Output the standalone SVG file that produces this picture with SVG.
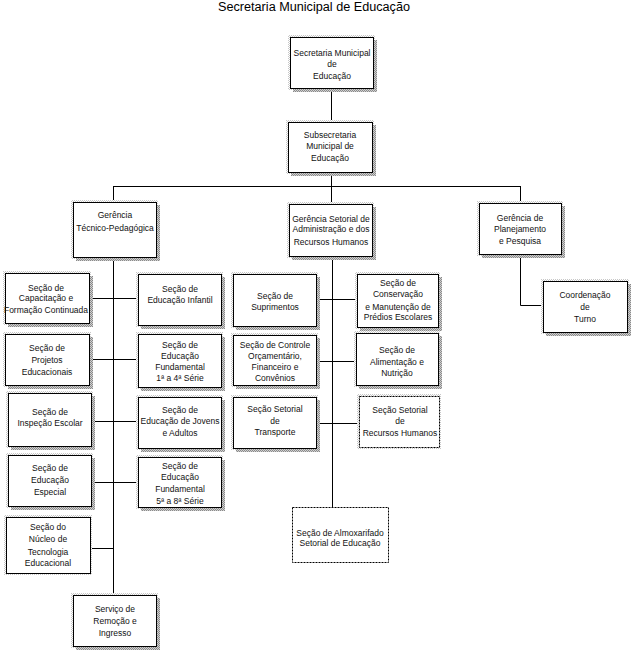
<svg xmlns="http://www.w3.org/2000/svg" width="636" height="655" viewBox="0 0 636 655">
<defs>
<pattern id="stip" width="2" height="2" patternUnits="userSpaceOnUse">
<rect width="2" height="2" fill="#d0d0d0"/>
<rect width="1" height="1" fill="#8a8a8a"/>
<rect x="1" y="1" width="1" height="1" fill="#8a8a8a"/>
</pattern>
<pattern id="halo" width="2" height="2" patternUnits="userSpaceOnUse">
<rect width="2" height="2" fill="#ffffff"/>
<rect width="1" height="1" fill="#c8c8c8"/>
<rect x="1" y="1" width="1" height="1" fill="#c8c8c8"/>
</pattern>
</defs>
<style>
.box{fill:#ffffff;stroke:#000000;stroke-width:1}
.dot{fill:#ffffff;stroke:#000000;stroke-width:1;stroke-dasharray:2 1}
.sh{fill:url(#stip)}
.ha{fill:url(#halo)}
.t{font-family:"Liberation Sans",Arial,sans-serif;font-size:8.5px;fill:#111111;text-anchor:middle}
.title{font-family:"Liberation Sans",Arial,sans-serif;font-size:12px;fill:#000000;text-anchor:middle}
.c{stroke:#000000;stroke-width:1;fill:none}
</style>
<rect width="636" height="655" fill="#ffffff"/>
<text class="title" x="314" y="11" textLength="192" lengthAdjust="spacingAndGlyphs">Secretaria Municipal de Educação</text>

<g id="connectors">
<path class="c" d="M331.5 88V122M331.5 172V204M113.5 186.5H520.5M113.5 186V202M520.5 186V203M520.5 254V305.5H543M113.5 257V595M89 298.5H138M89 359.5H138M91 421.5H138M91 482.5H138M90 548.5H113.5M332.5 256V507M316 299.5H357M316 361.5H356M316 423.5H359"/>
</g>

<g id="n-secretaria">
<rect class="ha" x="288" y="35" width="87" height="55"/><rect class="sh" x="293" y="40" width="84" height="52"/>
<rect class="box" x="290.5" y="37.5" width="83" height="51"/>
<text class="t" x="332" y="56">Secretaria Municipal</text><text class="t" x="332" y="67">de</text><text class="t" x="332" y="79">Educação</text>
</g>
<g id="n-subsecretaria">
<rect class="ha" x="286" y="120" width="88" height="54"/><rect class="sh" x="291" y="125" width="85" height="51"/>
<rect class="box" x="288.5" y="122.5" width="84" height="50"/>
<text class="t" x="330" y="138">Subsecretaria</text><text class="t" x="330" y="149">Municipal de</text><text class="t" x="330" y="161">Educação</text>
</g>
<g id="n-gerencia-tp">
<rect class="ha" x="71" y="200" width="87" height="59"/><rect class="sh" x="76" y="205" width="84" height="56"/>
<rect class="box" x="73.5" y="202.5" width="83" height="55"/>
<text class="t" x="115" y="218">Gerência</text><text class="t" x="115" y="231">Técnico-Pedagógica</text>
</g>
<g id="n-gerencia-sa">
<rect class="ha" x="287" y="202" width="87" height="56"/><rect class="sh" x="292" y="207" width="84" height="53"/>
<rect class="box" x="289.5" y="204.5" width="83" height="52"/>
<text class="t" x="331" y="222">Gerência Setorial de</text><text class="t" x="331" y="232">Administração e dos</text><text class="t" x="331" y="245">Recursos Humanos</text>
</g>
<g id="n-gerencia-pp">
<rect class="ha" x="477" y="201" width="86" height="55"/><rect class="sh" x="482" y="206" width="83" height="52"/>
<rect class="box" x="479.5" y="203.5" width="82" height="51"/>
<text class="t" x="520" y="221">Gerência de</text><text class="t" x="520" y="232">Planejamento</text><text class="t" x="520" y="244">e Pesquisa</text>
</g>
<g id="n-coordenacao">
<rect class="ha" x="541" y="279" width="88" height="55"/><rect class="sh" x="546" y="284" width="85" height="52"/>
<rect class="box" x="543.5" y="281.5" width="84" height="51"/>
<text class="t" x="585" y="298">Coordenação</text><text class="t" x="585" y="310">de</text><text class="t" x="585" y="322">Turno</text>
</g>
<g id="n-capacitacao">
<rect class="ha" x="3" y="271" width="88" height="54"/><rect class="sh" x="8" y="276" width="85" height="51"/>
<rect class="box" x="5.5" y="273.5" width="84" height="50"/>
<text class="t" x="46" y="291">Seção de</text><text class="t" x="46" y="301">Capacitação e</text><text class="t" x="46" y="313">Formação Continuada</text>
</g>
<g id="n-infantil">
<rect class="ha" x="136" y="272" width="87" height="55"/><rect class="sh" x="141" y="277" width="84" height="52"/>
<rect class="box" x="138.5" y="274.5" width="83" height="51"/>
<text class="t" x="180" y="292">Seção de</text><text class="t" x="180" y="303">Educação Infantil</text>
</g>
<g id="n-projetos">
<rect class="ha" x="3" y="332" width="88" height="55"/><rect class="sh" x="8" y="337" width="85" height="52"/>
<rect class="box" x="5.5" y="334.5" width="84" height="51"/>
<text class="t" x="47" y="351">Seção de</text><text class="t" x="47" y="363">Projetos</text><text class="t" x="47" y="375">Educacionais</text>
</g>
<g id="n-fundamental-1">
<rect class="ha" x="136" y="332" width="87" height="57"/><rect class="sh" x="141" y="337" width="84" height="54"/>
<rect class="box" x="138.5" y="334.5" width="83" height="53"/>
<text class="t" x="180" y="348">Seção de</text><text class="t" x="180" y="359">Educação</text><text class="t" x="180" y="370">Fundamental</text><text class="t" x="180" y="381">1ª a 4ª Série</text>
</g>
<g id="n-inspecao">
<rect class="ha" x="6" y="391" width="87" height="57"/><rect class="sh" x="11" y="396" width="84" height="54"/>
<rect class="box" x="8.5" y="393.5" width="83" height="53"/>
<text class="t" x="50" y="415">Seção de</text><text class="t" x="50" y="426">Inspeção Escolar</text>
</g>
<g id="n-jovens">
<rect class="ha" x="136" y="395" width="87" height="55"/><rect class="sh" x="141" y="400" width="84" height="52"/>
<rect class="box" x="138.5" y="397.5" width="83" height="51"/>
<text class="t" x="180" y="413">Seção de</text><text class="t" x="180" y="424">Educação de Jovens</text><text class="t" x="180" y="436">e Adultos</text>
</g>
<g id="n-especial">
<rect class="ha" x="6" y="453" width="87" height="55"/><rect class="sh" x="11" y="458" width="84" height="52"/>
<rect class="box" x="8.5" y="455.5" width="83" height="51"/>
<text class="t" x="50" y="471">Seção de</text><text class="t" x="50" y="483">Educação</text><text class="t" x="50" y="495">Especial</text>
</g>
<g id="n-fundamental-2">
<rect class="ha" x="136" y="455" width="87" height="54"/><rect class="sh" x="141" y="460" width="84" height="51"/>
<rect class="box" x="138.5" y="457.5" width="83" height="50"/>
<text class="t" x="180" y="469">Seção de</text><text class="t" x="180" y="480">Educação</text><text class="t" x="180" y="492">Fundamental</text><text class="t" x="180" y="504">5ª a 8ª Série</text>
</g>
<g id="n-nucleo">
<rect class="ha" x="4" y="515" width="88" height="60"/>
<rect class="box" x="6.5" y="517.5" width="84" height="56"/>
<text class="t" x="48" y="530">Seção do</text><text class="t" x="48" y="542">Núcleo de</text><text class="t" x="48" y="555">Tecnologia</text><text class="t" x="48" y="566">Educacional</text>
</g>
<g id="n-servico">
<rect class="ha" x="71" y="593" width="87" height="55"/><rect class="sh" x="76" y="598" width="84" height="52"/>
<rect class="box" x="73.5" y="595.5" width="83" height="51"/>
<text class="t" x="115" y="612">Serviço de</text><text class="t" x="115" y="624">Remoção e</text><text class="t" x="115" y="636">Ingresso</text>
</g>
<g id="n-suprimentos">
<rect class="ha" x="231" y="272" width="87" height="56"/><rect class="sh" x="236" y="277" width="84" height="53"/>
<rect class="box" x="233.5" y="274.5" width="83" height="52"/>
<text class="t" x="275" y="299">Seção de</text><text class="t" x="275" y="310">Suprimentos</text>
</g>
<g id="n-conservacao">
<rect class="ha" x="355" y="272" width="85" height="57"/><rect class="sh" x="360" y="277" width="82" height="54"/>
<rect class="box" x="357.5" y="274.5" width="81" height="53"/>
<text class="t" x="398" y="286">Seção de</text><text class="t" x="398" y="297">Conservação</text><text class="t" x="398" y="310">e Manutenção de</text><text class="t" x="398" y="320">Prédios Escolares</text>
</g>
<g id="n-controle">
<rect class="ha" x="231" y="333" width="87" height="54"/><rect class="sh" x="236" y="338" width="84" height="51"/>
<rect class="box" x="233.5" y="335.5" width="83" height="50"/>
<text class="t" x="275" y="348">Seção de Controle</text><text class="t" x="275" y="359">Orçamentário,</text><text class="t" x="275" y="370">Financeiro e</text><text class="t" x="275" y="381">Convênios</text>
</g>
<g id="n-alimentacao">
<rect class="ha" x="354" y="331" width="86" height="56"/><rect class="sh" x="359" y="336" width="83" height="53"/>
<rect class="box" x="356.5" y="333.5" width="82" height="52"/>
<text class="t" x="397" y="353">Seção de</text><text class="t" x="397" y="365">Alimentação e</text><text class="t" x="397" y="376">Nutrição</text>
</g>
<g id="n-transporte">
<rect class="ha" x="231" y="395" width="87" height="55"/><rect class="sh" x="236" y="400" width="84" height="52"/>
<rect class="box" x="233.5" y="397.5" width="83" height="51"/>
<text class="t" x="275" y="412">Seção Setorial</text><text class="t" x="275" y="424">de</text><text class="t" x="275" y="435">Transporte</text>
</g>
<g id="n-recursos-humanos">
<rect class="ha" x="357" y="394" width="84" height="55"/>
<rect class="dot" x="359.5" y="396.5" width="80" height="51"/>
<text class="t" x="400" y="413">Seção Setorial</text><text class="t" x="400" y="424">de</text><text class="t" x="400" y="436">Recursos Humanos</text>
</g>
<g id="n-almoxarifado">
<rect class="dot" x="292.5" y="507.5" width="96" height="55"/>
<text class="t" x="340" y="536">Seção de Almoxarifado</text><text class="t" x="340" y="546">Setorial de Educação</text>
</g>
</svg>
